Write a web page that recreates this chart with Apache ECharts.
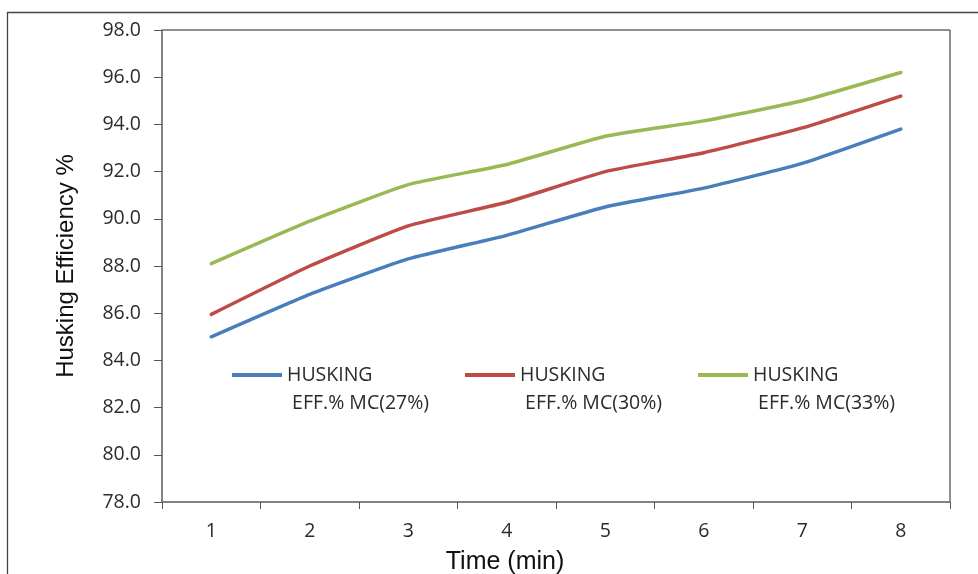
<!DOCTYPE html>
<html>
<head>
<meta charset="utf-8">
<title>Husking Efficiency vs Time</title>
<script src="https://cdn.jsdelivr.net/npm/echarts@6/dist/echarts.min.js"></script>
<style>
  html, body { margin: 0; padding: 0; background: #fff; }
  #chart { width: 978px; height: 574px; }
</style>
</head>
<body>
<div id="chart"></div>
<script>
// Time (min)
const categories = ['1', '2', '3', '4', '5', '6', '7', '8'];

// Husking efficiency (%) at three moisture contents
const mc27 = [85.0, 86.8, 88.3, 89.3, 90.5, 91.3, 92.35, 93.8];
const mc30 = [85.95, 88.0, 89.7, 90.7, 92.0, 92.8, 93.85, 95.2];
const mc33 = [88.1, 89.9, 91.45, 92.3, 93.5, 94.15, 95.0, 96.2];

const seriesNames = ['HUSKING EFF.% MC(27%)', 'HUSKING EFF.% MC(30%)', 'HUSKING EFF.% MC(33%)'];
const seriesValues = [mc27, mc30, mc33];
const seriesColors = ['#4A7EBB', '#BE4B48', '#98B954'];

const legendLefts = [232, 465, 698];

const chart = echarts.init(document.getElementById('chart'), null, { renderer: 'canvas' });

const tickFont = '"Open Sans", "DejaVu Sans", sans-serif';
const titleFont = '"Liberation Sans", Arial, sans-serif';

const option = {
  backgroundColor: '#ffffff',
  animation: false,
  color: seriesColors,
  grid: {
    left: 162,
    right: 28,
    top: 30,
    bottom: 72,
    show: true,
    borderColor: '#222',
    borderWidth: 1,
    containLabel: false,
    outerBoundsMode: 'none'
  },
  legend: seriesNames.map((name, i) => ({
    data: [name],
    left: legendLefts[i],
    top: 333,
    padding: 0,
    orient: 'horizontal',
    itemWidth: 50,
    itemHeight: 4,
    itemGap: 0,
    icon: 'rect',
    selectedMode: false,
    formatter: (n) => {
      const parts = n.split(' ');
      return '\u00a0\nHUSKING\n\u00a0' + parts.slice(1).join(' ');
    },
    textStyle: {
      fontFamily: tickFont,
      fontSize: 19.5,
      color: '#2b2b2b',
      lineHeight: 28
    }
  })),
  xAxis: {
    type: 'category',
    data: categories,
    boundaryGap: true,
    name: 'Time (min)',
    nameLocation: 'middle',
    nameGap: 48,
    nameTextStyle: {
      fontFamily: titleFont,
      fontSize: 25,
      color: '#111',
      padding: [0, 102, 0, 0]
    },
    axisLine: { lineStyle: { color: '#7f7f7f', width: 1.5 } },
    axisTick: { show: true, length: 7, lineStyle: { color: '#555' } },
    axisLabel: { fontFamily: tickFont, fontSize: 19.5, color: '#2b2b2b', margin: 19 },
    splitLine: { show: false }
  },
  yAxis: {
    type: 'value',
    min: 78,
    max: 98,
    interval: 2,
    name: 'Husking Efficiency %',
    nameLocation: 'middle',
    nameGap: 84,
    nameRotate: 90,
    nameTextStyle: { fontFamily: titleFont, fontSize: 24, color: '#111' },
    axisLine: { show: true, lineStyle: { color: '#7f7f7f', width: 1.5 } },
    axisTick: { show: true, length: 8, lineStyle: { color: '#555' } },
    axisLabel: {
      fontFamily: tickFont,
      fontSize: 19.5,
      color: '#2b2b2b',
      margin: 21,
      formatter: (v) => v.toFixed(1)
    },
    splitLine: { show: false }
  },
  series: seriesNames.map((name, i) => ({
    name: name,
    type: 'line',
    data: seriesValues[i],
    smooth: 0.15,
    showSymbol: false,
    symbol: 'none',
    lineStyle: { width: 3.5, color: seriesColors[i], cap: 'round', join: 'round' },
    itemStyle: { color: seriesColors[i] }
  })),
  graphic: [{
    type: 'polyline',
    shape: { points: [[7.5, 574], [7.5, 12.5], [978, 12.5]] },
    style: { stroke: '#444', lineWidth: 1.3, fill: null },
    silent: true
  }]
};

chart.setOption(option);
</script>
</body>
</html>
